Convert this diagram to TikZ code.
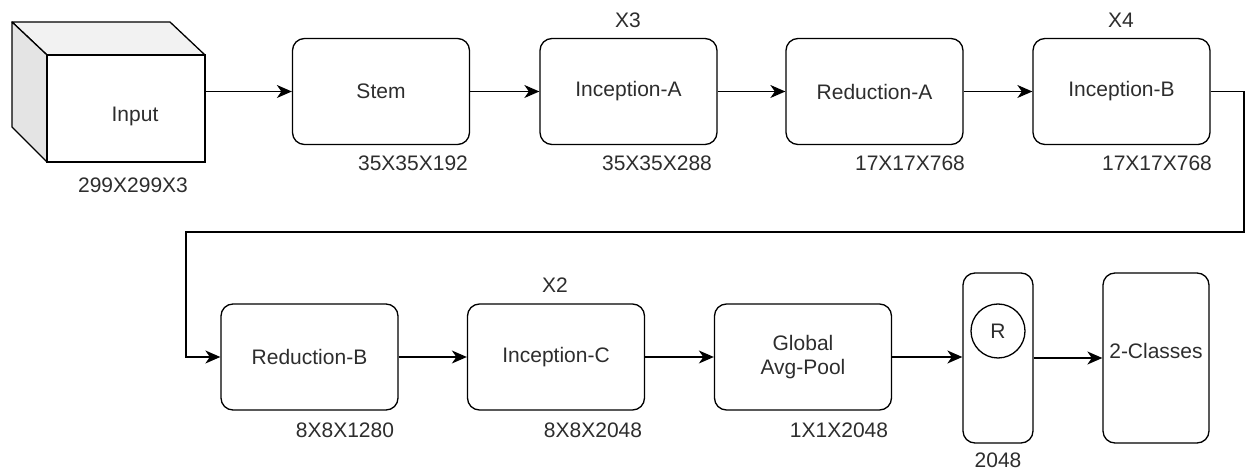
\documentclass[tikz,border=0pt]{standalone}
\usepackage{fontspec}
\setmainfont{Liberation Sans}
\usetikzlibrary{arrows.meta}
\definecolor{ink}{RGB}{45,45,45}
\definecolor{topface}{RGB}{242,242,242}
\definecolor{sideface}{RGB}{228,228,228}
\tikzset{
  x=1bp, y=-1bp,
  every node/.style={font=\fontsize{21bp}{24bp}\selectfont, text=ink, inner sep=0pt},
  stage/.style={draw=black, line width=1.3bp, rounded corners=12bp,
    minimum width=177bp, minimum height=106bp, align=center},
  tallbox/.style={draw=black, line width=1.3bp, rounded corners=12bp,
    minimum height=170bp},
  flow/.style={draw=black, line width=1.3bp,
    -{Stealth[length=15bp, width=13bp, inset=4.5bp]}},
}
\begin{document}
\begin{tikzpicture}
\useasboundingbox (0,0) rectangle (1248,472);

% input volume drawn as a cube
\filldraw[fill=topface, line width=1.3bp, line join=round]
  (12,22) -- (170,22) -- (205,55) -- (47,55) -- cycle;
\filldraw[fill=sideface, line width=1.3bp, line join=round]
  (12,22) -- (47,55) -- (47,162) -- (12,127) -- cycle;
\draw[fill=white, line width=1.3bp] (47,55) rectangle (205,162);
\node (input) [minimum width=193bp, minimum height=139bp] at (108.5,91.5) {};
\node (inputtxt) at (135,116) {Input};
\node (inputdim) at (133,185) {299X299X3};

% first row of stages
\node[stage] (stem) at (381,91.5) {Stem};
\node[stage] (inca) at (628.5,91.5) {Inception-A};
\node[stage] (reda) at (874.5,91.5) {Reduction-A};
\node[stage] (incb) at (1121.5,91.5) {Inception-B};

\node (stemdim) at (413,163) {35X35X192};
\node (incadim) at (657,163) {35X35X288};
\node (redadim) at (910,163) {17X17X768};
\node (incbdim) at (1157,163) {17X17X768};
\node (incarep) at (628,20) {X3};
\node (incbrep) at (1121,20) {X4};

% second row of stages
\node[stage] (redb) at (309.5,357) {Reduction-B};
\node[stage] (incc) at (556,357) {Inception-C};
\node[stage] (gap) at (803,357) {Global\\Avg-Pool};
\node[tallbox, minimum width=70bp] (fc) at (998,358) {};
\node[draw=black, line width=1.3bp, circle, minimum size=54bp] (relu) at (998,331) {R};
\node[tallbox, minimum width=106bp] (out) at (1156,358) {};
\node (outtxt) at (1156,351) {2-Classes};

\node (redbdim) at (345,430) {8X8X1280};
\node (inccdim) at (593,430) {8X8X2048};
\node (gapdim) at (839,430) {1X1X2048};
\node (fcdim) at (998,460) {2048};
\node (inccrep) at (555,285) {X2};

% connectors
\coordinate (wrapA) at (1244,91.5);
\coordinate (wrapB) at (1244,232);
\coordinate (wrapC) at (186,232);
\coordinate (wrapD) at (186,357);

\draw[flow] (input.east) -- (stem.west);
\draw[flow] (stem) -- (inca);
\draw[flow] (inca) -- (reda);
\draw[flow] (reda) -- (incb);
\draw[flow] (incb.east) -- (wrapA) -- (wrapB) -- (wrapC) -- (wrapD) -- (redb.west);
\draw[flow] (redb) -- (incc);
\draw[flow] (incc) -- (gap);
\draw[flow] (gap.east) -- (gap.east -| fc.west);
\draw[flow] (fc) -- (out);
\end{tikzpicture}
\end{document}
